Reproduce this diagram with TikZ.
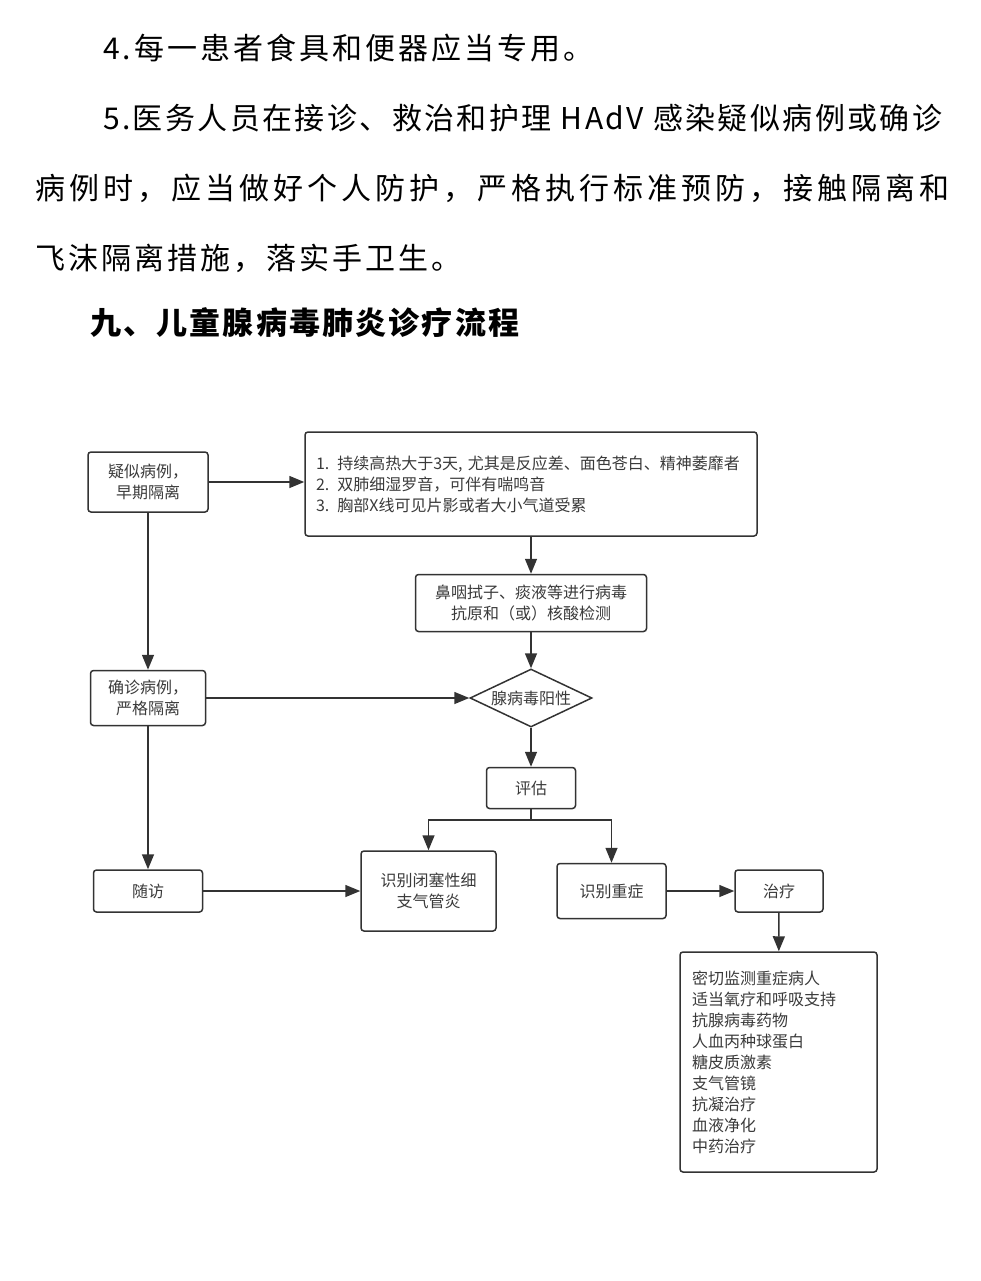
\documentclass[tikz,border=0pt]{standalone}
\usepackage{fontspec}
\usepackage{xcolor}
\setmainfont{Noto Sans CJK SC}
\newfontfamily\bodyfont[LetterSpace=10]{Noto Sans CJK SC}
\newfontfamily\bodyfontb[LetterSpace=8]{Noto Sans CJK SC}
\newfontfamily\bodyfontc[LetterSpace=13.4]{Noto Sans CJK SC}
\newfontfamily\headfont[LetterSpace=7]{Noto Sans CJK SC}
\newfontfamily\boxfont{Noto Sans CJK SC}
\usetikzlibrary{arrows.meta,shapes.geometric}

\definecolor{lineg}{HTML}{333333}
\definecolor{textg}{HTML}{3A3A3A}
\newcommand{\bodytext}{\bodyfont\fontsize{30pt}{36pt}\selectfont}
\newcommand{\headtext}{\headfont\bfseries\fontsize{31pt}{36pt}\selectfont}
\newcommand{\flowtext}{\boxfont\fontsize{16pt}{21pt}\selectfont}

\begin{document}
\begin{tikzpicture}[x=1pt, y=-1pt,
  line/.style={anchor=west, inner sep=0pt, font=\bodytext},
  box/.style={draw=lineg, line width=1.5pt, rounded corners=3pt, align=center,
    text=textg, font=\flowtext, inner sep=0pt},
  arr/.style={draw=lineg, line width=1.5pt, -{Triangle[length=15pt,width=12pt]}}]
  \useasboundingbox (0,0) rectangle (981,1281);

  % text above the chart
  \node[line] (l1) at (103,48) {4.每一患者食具和便器应当专用。};
  \node[line] (l2) at (103,118) {\bodyfontb 5.医务人员在接诊、救治和护理 HAdV 感染疑似病例或确诊};
  \node[line] (l3) at (35,188) {\bodyfontc 病例时，应当做好个人防护，严格执行标准预防，接触隔离和};
  \node[line] (l4) at (35,258) {飞沫隔离措施，落实手卫生。};
  \node[anchor=west, inner sep=0pt, font=\headtext] (title) at (90,323) {九、儿童腺病毒肺炎诊疗流程};

  % flow chart
  \node[box, minimum width=120pt, minimum height=60pt] (susp) at (148,482) {疑似病例，\\早期隔离};
  \node[box, align=left, text width=430pt, inner xsep=11pt, minimum height=104pt] (sym) at (531,484)
    {1. 持续高热大于3天, 尤其是反应差、面色苍白、精神萎靡者\\
     2. 双肺细湿罗音，可伴有喘鸣音\\
     3. 胸部X线可见片影或者大小气道受累};
  \node[box, minimum width=231pt, minimum height=57pt] (swab) at (531,603)
    {鼻咽拭子、痰液等进行病毒\\抗原和（或）核酸检测};
  \node[box, diamond, sharp corners, aspect=2.1, minimum width=122pt, minimum height=58pt] (pos) at (531,698) {腺病毒阳性};
  \node[box, minimum width=115pt, minimum height=55pt] (conf) at (148,698) {确诊病例，\\严格隔离};
  \node[box, minimum width=89pt, minimum height=41pt] (eval) at (531,788) {评估};
  \node[box, minimum width=109pt, minimum height=42pt] (visit) at (148,891) {随访};
  \node[box, minimum width=135pt, minimum height=80pt] (bo) at (428.5,891) {识别闭塞性细\\支气管炎};
  \node[box, minimum width=109pt, minimum height=55pt] (sev) at (611.5,891) {识别重症};
  \node[box, minimum width=88pt, minimum height=42pt] (treat) at (779,891) {治疗};
  \node[box, align=left, text width=173pt, inner xsep=12pt, minimum height=220pt] (list) at (778.5,1062)
    {密切监测重症病人\\适当氧疗和呼吸支持\\抗腺病毒药物\\人血丙种球蛋白\\糖皮质激素\\支气管镜\\抗凝治疗\\血液净化\\中药治疗};

  \coordinate (fork) at (531,820);

  \draw[arr] (susp.east) -- (susp.east -| sym.west);
  \draw[arr] (sym) -- (swab);
  \draw[arr] (swab) -- (pos);
  \draw[arr] (susp) -- (conf);
  \draw[arr] (conf) -- (pos);
  \draw[arr] (pos) -- (eval);
  \draw[line width=1.5pt, draw=lineg] (eval.south) -- (fork);
  \draw[arr] (fork) -| (bo.north);
  \draw[arr] (fork) -| (sev.north);
  \draw[arr] (conf) -- (visit);
  \draw[arr] (visit) -- (bo);
  \draw[arr] (sev) -- (treat);
  \draw[arr] (treat) -- (list);
\end{tikzpicture}
\end{document}
